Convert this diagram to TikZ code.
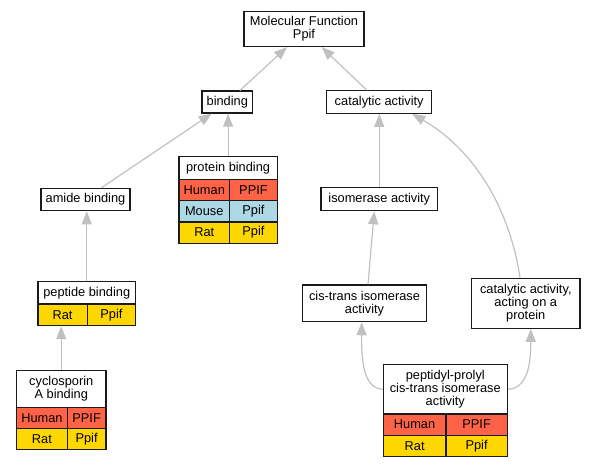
\documentclass[tikz,border=0pt]{standalone}
\usepackage{fontspec}
\setmainfont{Liberation Sans}
\usetikzlibrary{arrows.meta,calc}
\definecolor{edgegray}{HTML}{C0C0C0}
\definecolor{human}{HTML}{FF6347}
\definecolor{mouse}{HTML}{ADD8E6}
\definecolor{rat}{HTML}{FFD700}
\definecolor{border}{HTML}{1A1A1A}
\begin{document}
\begin{tikzpicture}[x=1pt,y=-1pt,
  every node/.style={font=\fontsize{12.8}{13}\selectfont},
  box/.style={draw=border, line width=1.2pt, fill=white, inner sep=0pt, align=center},
  hdr/.style={box, anchor=north west},
  cell/.style={draw=border, line width=1.2pt, inner sep=0pt, anchor=north west},
  edge/.style={draw=edgegray, line width=1.2pt, -{Triangle[length=13pt,width=10pt,fill=edgegray]}}]
\useasboundingbox (0,0) rectangle (595,467);
% plain nodes
\node[box, minimum width=120pt, minimum height=35pt] (mf) at (304,29) {Molecular Function\\Ppif};
\node[box, minimum width=50.5pt, minimum height=22pt] (bind) at (227.3,102) {binding};
\node[box, minimum width=105pt, minimum height=22.6pt] (cat) at (379.2,102) {catalytic activity};
\node[box, minimum width=89pt, minimum height=22.4pt] (amide) at (85.5,199.5) {amide binding};
\node[box, minimum width=116.7pt, minimum height=23pt] (iso) at (379.3,199.2) {isomerase activity};
\node[box, minimum width=124.4pt, minimum height=36.7pt] (cis) at (364.5,303.3) {cis-trans isomerase\\activity};
\node[box, minimum width=108.3pt, minimum height=50pt] (catprot) at (525.8,303.3) {catalytic activity,\\acting on a\\protein};
% protein binding table
\node[hdr, minimum width=98.4pt, minimum height=22.5pt] (pb) at (178.3,156) {protein binding};
\node[cell, fill=human, minimum width=50.7pt, minimum height=21.4pt] (pbha) at (178.3,178.5) {Human};
\node[cell, fill=human, minimum width=47.7pt, minimum height=21.4pt] (pbhb) at (229,178.5) {PPIF};
\node[cell, fill=mouse, minimum width=50.7pt, minimum height=21.4pt] (pbma) at (178.3,199.9) {Mouse};
\node[cell, fill=mouse, minimum width=47.7pt, minimum height=21.4pt] (pbmb) at (229,199.9) {Ppif};
\node[cell, fill=rat, minimum width=50.7pt, minimum height=21.4pt] (pbra) at (178.3,221.3) {Rat};
\node[cell, fill=rat, minimum width=47.7pt, minimum height=21.4pt] (pbrb) at (229,221.3) {Ppif};
% peptide binding table
\node[hdr, minimum width=97.7pt, minimum height=22.3pt] (pep) at (37.3,281) {peptide binding};
\node[cell, fill=rat, minimum width=49.4pt, minimum height=21.7pt] (pepra) at (37.3,303.3) {Rat};
\node[cell, fill=rat, minimum width=48.3pt, minimum height=21.7pt] (peprb) at (86.7,303.3) {Ppif};
% cyclosporin table
\node[hdr, minimum width=89.3pt, minimum height=36.7pt] (cyc) at (16,370) {cyclosporin\\A binding};
\node[cell, fill=human, minimum width=50.7pt, minimum height=21.2pt] (cycha) at (16,406.7) {Human};
\node[cell, fill=human, minimum width=38.6pt, minimum height=21.2pt] (cychb) at (66.7,406.7) {PPIF};
\node[cell, fill=rat, minimum width=50.7pt, minimum height=21.2pt] (cycra) at (16,427.9) {Rat};
\node[cell, fill=rat, minimum width=38.6pt, minimum height=21.2pt] (cycrb) at (66.7,427.9) {Ppif};
% peptidyl-prolyl table
\node[hdr, minimum width=124pt, minimum height=49.3pt] (ppi) at (382.7,364) {peptidyl-prolyl\\cis-trans isomerase\\activity};
\node[cell, fill=human, minimum width=62.6pt, minimum height=21.2pt] (ppiha) at (382.7,413.3) {Human};
\node[cell, fill=human, minimum width=61.4pt, minimum height=21.2pt] (ppihb) at (445.3,413.3) {PPIF};
\node[cell, fill=rat, minimum width=62.6pt, minimum height=21.2pt] (ppira) at (382.7,434.5) {Rat};
\node[cell, fill=rat, minimum width=61.4pt, minimum height=21.2pt] (ppirb) at (445.3,434.5) {Ppif};
% edges
\draw[edge] ([xshift=12.7pt]bind.north) -- ([xshift=-17pt]mf.south);
\draw[edge] ([xshift=-12.5pt]cat.north) -- ([xshift=17.7pt]mf.south);
\draw[edge] ([xshift=16pt]amide.north) -- ([xshift=-15.6pt]bind.south);
\draw[edge] (pb.north) -- (pb.north |- bind.south);
\draw[edge] (pep.north) -- (pep.north |- amide.south);
\draw[edge] (cyc.north) -- (cyc.north |- pepra.south);
\draw[edge] (iso.north) -- (iso.north |- cat.south);
\draw[edge] ([xshift=3.5pt]cis.north) -- ([xshift=-5pt]iso.south);
\draw[edge] ([xshift=-5.8pt]catprot.north) .. controls (510,210) and (475,150) .. ([xshift=33pt]cat.south);
\draw[edge] (ppi.west) .. controls (362,388.7) and (361.5,355) .. ([xshift=-2.8pt]cis.south);
\draw[edge] (ppi.east) .. controls (530.5,388.7) and (530.7,355) .. ([xshift=5pt]catprot.south);
\end{tikzpicture}
\end{document}
